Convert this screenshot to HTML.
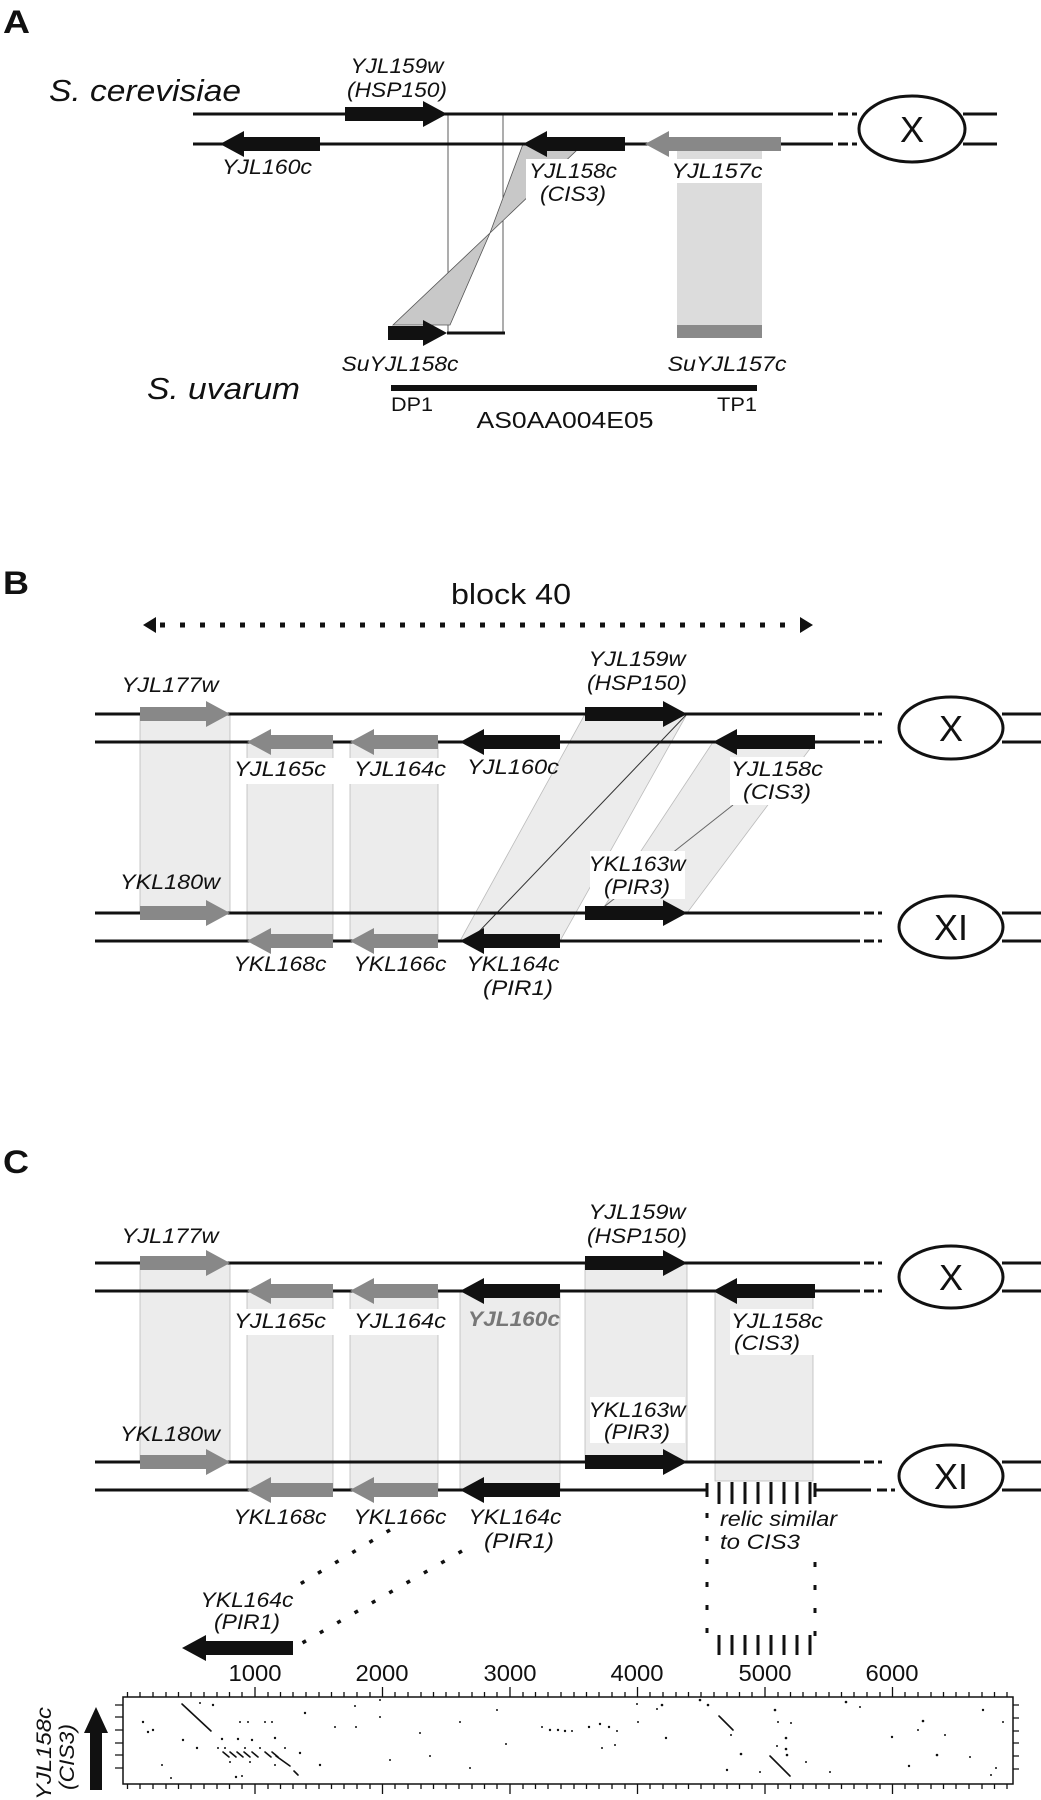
<!DOCTYPE html>
<html><head><meta charset="utf-8"><style>
html,body{margin:0;padding:0;background:#fff}
svg{display:block}
text{font-family:"Liberation Sans",sans-serif;fill:#111}
.l{font-style:italic;font-size:21px}
</style></head><body>
<svg width="1041" height="1800" viewBox="0 0 1041 1800" xmlns="http://www.w3.org/2000/svg">

<!-- ===== PANEL A ===== -->
<text x="3" y="33" font-size="32" font-weight="bold" textLength="27" lengthAdjust="spacingAndGlyphs">A</text>
<text x="49" y="101" font-size="31" font-style="italic" textLength="192" lengthAdjust="spacingAndGlyphs">S. cerevisiae</text>
<text x="147" y="399" font-size="31" font-style="italic" textLength="153" lengthAdjust="spacingAndGlyphs">S. uvarum</text>

<rect x="448" y="114" width="55" height="219" fill="#fff" stroke="#333" stroke-width="0.8"/>
<rect x="677" y="150" width="85" height="188" fill="#dcdcdc"/>
<rect x="677" y="325" width="85" height="13" fill="#8a8a8a"/>
<polygon points="523,144 577,150 490,233" fill="#c8c8c8" stroke="#555" stroke-width="0.8"/>
<polygon points="490,233 393,325 450,325" fill="#c8c8c8" stroke="#555" stroke-width="0.8"/>

<g stroke="#111" stroke-width="3" fill="none">
<line x1="193" y1="114" x2="833" y2="114"/><line x1="838" y1="114" x2="848" y2="114"/><line x1="852" y1="114" x2="857" y2="114"/>
<line x1="193" y1="144" x2="833" y2="144"/><line x1="838" y1="144" x2="848" y2="144"/><line x1="852" y1="144" x2="857" y2="144"/>
<line x1="963" y1="114" x2="997" y2="114"/><line x1="963" y1="144" x2="997" y2="144"/>
<line x1="447" y1="333" x2="505" y2="333"/>
<ellipse cx="912" cy="129" rx="53" ry="33" fill="#fff"/>
</g>
<line x1="391" y1="388" x2="757" y2="388" stroke="#111" stroke-width="6"/>
<text x="912" y="142" font-size="36" text-anchor="middle">X</text>

<polygon points="345,107 423,107 423,101 447,114 423,127 423,121 345,121" fill="#111"/>
<polygon points="320,137 244,137 244,131 220,144 244,157 244,151 320,151" fill="#111"/>
<polygon points="625,137 547,137 547,131 523,144 547,157 547,151 625,151" fill="#111"/>
<polygon points="781,137 669,137 669,131 645,144 669,157 669,151 781,151" fill="#888"/>
<polygon points="388,326 423,326 423,320 447,333 423,346 423,340 388,340" fill="#111"/>

<rect x="668" y="159" width="100" height="24" fill="#fff"/>
<rect x="526" y="159" width="96" height="48" fill="#fff"/>
<g class="l">
<text x="397" y="73" text-anchor="middle" textLength="93" lengthAdjust="spacingAndGlyphs">YJL159w</text>
<text x="397" y="97" text-anchor="middle" textLength="100" lengthAdjust="spacingAndGlyphs">(HSP150)</text>
<text x="267" y="174" text-anchor="middle" textLength="90" lengthAdjust="spacingAndGlyphs">YJL160c</text>
<text x="573" y="178" text-anchor="middle" textLength="88" lengthAdjust="spacingAndGlyphs">YJL158c</text>
<text x="573" y="201" text-anchor="middle" textLength="66" lengthAdjust="spacingAndGlyphs">(CIS3)</text>
<text x="717" y="178" text-anchor="middle" textLength="91" lengthAdjust="spacingAndGlyphs">YJL157c</text>
<text x="400" y="371" text-anchor="middle" textLength="117" lengthAdjust="spacingAndGlyphs">SuYJL158c</text>
<text x="727" y="371" text-anchor="middle" textLength="119" lengthAdjust="spacingAndGlyphs">SuYJL157c</text>
</g>
<text x="391" y="411" font-size="19" textLength="42" lengthAdjust="spacingAndGlyphs">DP1</text>
<text x="717" y="411" font-size="19" textLength="40" lengthAdjust="spacingAndGlyphs">TP1</text>
<text x="565" y="428" font-size="23" text-anchor="middle" textLength="177" lengthAdjust="spacingAndGlyphs">AS0AA004E05</text>

<!-- ===== PANEL B ===== -->
<text x="3" y="594" font-size="32" font-weight="bold" textLength="26" lengthAdjust="spacingAndGlyphs">B</text>
<text x="511" y="604" font-size="29" text-anchor="middle" textLength="120" lengthAdjust="spacingAndGlyphs">block 40</text>
<line x1="160" y1="625" x2="800" y2="625" stroke="#111" stroke-width="5" stroke-dasharray="5 15"/>
<polygon points="143,625 156,617 156,633" fill="#111"/>
<polygon points="813,625 800,617 800,633" fill="#111"/>

<g fill="#ececec" stroke="#bbb" stroke-width="0.8">
<rect x="140" y="714" width="90" height="199"/>
<rect x="247" y="742" width="86" height="199"/>
<rect x="350" y="742" width="88" height="199"/>
<polygon points="585,714 687,714 560,941 460,941"/>
<polygon points="713,742 815,742 687,913 600,913"/>
</g>
<line x1="687" y1="714" x2="470" y2="941" stroke="#333" stroke-width="1"/>
<line x1="733" y1="805" x2="600" y2="910" stroke="#666" stroke-width="1"/>

<g id="chrom">
<g stroke="#111" stroke-width="3" fill="none">
<line x1="95" y1="714" x2="860" y2="714"/><line x1="864" y1="714" x2="874" y2="714"/><line x1="878" y1="714" x2="882" y2="714"/>
<line x1="95" y1="742" x2="860" y2="742"/><line x1="864" y1="742" x2="874" y2="742"/><line x1="878" y1="742" x2="882" y2="742"/>
<line x1="95" y1="913" x2="860" y2="913"/><line x1="864" y1="913" x2="874" y2="913"/><line x1="878" y1="913" x2="882" y2="913"/>
<line x1="1002" y1="714" x2="1041" y2="714"/><line x1="1002" y1="742" x2="1041" y2="742"/>
<line x1="1002" y1="913" x2="1041" y2="913"/>
<ellipse cx="951" cy="728" rx="52" ry="31" fill="#fff"/>
<ellipse cx="951" cy="927" rx="52" ry="31" fill="#fff"/>
</g>
<text x="951" y="741" font-size="36" text-anchor="middle">X</text>
<text x="951" y="940" font-size="36" text-anchor="middle">XI</text>
<polygon points="140,707 206,707 206,701 230,714 206,727 206,721 140,721" fill="#888"/>
<polygon points="333,735 271,735 271,729 247,742 271,755 271,749 333,749" fill="#888"/>
<polygon points="438,735 374,735 374,729 350,742 374,755 374,749 438,749" fill="#888"/>
<polygon points="560,735 484,735 484,729 460,742 484,755 484,749 560,749" fill="#111"/>
<polygon points="585,707 663,707 663,701 687,714 663,727 663,721 585,721" fill="#111"/>
<polygon points="815,735 737,735 737,729 713,742 737,755 737,749 815,749" fill="#111"/>
<polygon points="140,906 206,906 206,900 230,913 206,926 206,920 140,920" fill="#888"/>
<polygon points="585,906 663,906 663,900 687,913 663,926 663,920 585,920" fill="#111"/>
</g>
<g stroke="#111" stroke-width="3">
<line x1="95" y1="941" x2="860" y2="941"/><line x1="864" y1="941" x2="874" y2="941"/><line x1="878" y1="941" x2="882" y2="941"/>
<line x1="1002" y1="941" x2="1041" y2="941"/>
</g>
<polygon points="333,934 271,934 271,928 247,941 271,954 271,948 333,948" fill="#888"/>
<polygon points="438,934 374,934 374,928 350,941 374,954 374,948 438,948" fill="#888"/>
<polygon points="560,934 484,934 484,928 460,941 484,954 484,948 560,948" fill="#111"/>

<g fill="#fff">
<rect x="236" y="758" width="210" height="26"/>
<rect x="730" y="757" width="95" height="48"/>
<rect x="590" y="851" width="95" height="48"/>
</g>
<g class="l">
<text x="170" y="692" text-anchor="middle" textLength="97" lengthAdjust="spacingAndGlyphs">YJL177w</text>
<text x="637" y="666" text-anchor="middle" textLength="97" lengthAdjust="spacingAndGlyphs">YJL159w</text>
<text x="637" y="690" text-anchor="middle" textLength="100" lengthAdjust="spacingAndGlyphs">(HSP150)</text>
<text x="280" y="776" text-anchor="middle" textLength="92" lengthAdjust="spacingAndGlyphs">YJL165c</text>
<text x="400" y="776" text-anchor="middle" textLength="92" lengthAdjust="spacingAndGlyphs">YJL164c</text>
<text x="513" y="774" text-anchor="middle" textLength="92" lengthAdjust="spacingAndGlyphs">YJL160c</text>
<text x="777" y="776" text-anchor="middle" textLength="92" lengthAdjust="spacingAndGlyphs">YJL158c</text>
<text x="777" y="799" text-anchor="middle" textLength="68" lengthAdjust="spacingAndGlyphs">(CIS3)</text>
<text x="637" y="871" text-anchor="middle" textLength="97" lengthAdjust="spacingAndGlyphs">YKL163w</text>
<text x="637" y="894" text-anchor="middle" textLength="66" lengthAdjust="spacingAndGlyphs">(PIR3)</text>
<text x="170" y="889" text-anchor="middle" textLength="100" lengthAdjust="spacingAndGlyphs">YKL180w</text>
<text x="280" y="971" text-anchor="middle" textLength="93" lengthAdjust="spacingAndGlyphs">YKL168c</text>
<text x="400" y="971" text-anchor="middle" textLength="93" lengthAdjust="spacingAndGlyphs">YKL166c</text>
<text x="513" y="971" text-anchor="middle" textLength="93" lengthAdjust="spacingAndGlyphs">YKL164c</text>
<text x="518" y="995" text-anchor="middle" textLength="70" lengthAdjust="spacingAndGlyphs">(PIR1)</text>
</g>

<!-- ===== PANEL C ===== -->
<text x="3" y="1173" font-size="32" font-weight="bold" textLength="26" lengthAdjust="spacingAndGlyphs">C</text>
<g fill="#ececec" stroke="#bbb" stroke-width="0.8">
<rect x="140" y="1263" width="90" height="198"/>
<rect x="247" y="1291" width="86" height="199"/>
<rect x="350" y="1291" width="88" height="199"/>
<rect x="460" y="1291" width="100" height="199"/>
<rect x="585" y="1263" width="102" height="198"/>
<rect x="715" y="1291" width="98" height="190"/>
</g>
<use href="#chrom" transform="translate(0,549)"/>
<g stroke="#111" stroke-width="3">
<line x1="95" y1="1490" x2="707" y2="1490"/><line x1="815" y1="1490" x2="871" y2="1490"/>
<line x1="877" y1="1490" x2="887" y2="1490"/><line x1="891" y1="1490" x2="895" y2="1490"/>
<line x1="1002" y1="1490" x2="1041" y2="1490"/>
<line x1="707" y1="1483" x2="707" y2="1497"/><line x1="815" y1="1483" x2="815" y2="1497"/>
</g>
<polygon points="333,1483 271,1483 271,1477 247,1490 271,1503 271,1497 333,1497" fill="#888"/>
<polygon points="438,1483 374,1483 374,1477 350,1490 374,1503 374,1497 438,1497" fill="#888"/>
<polygon points="560,1483 484,1483 484,1477 460,1490 484,1503 484,1497 560,1497" fill="#111"/>
<g stroke="#111" stroke-width="3">
<line x1="719" y1="1482" x2="719" y2="1504"/><line x1="732" y1="1482" x2="732" y2="1504"/>
<line x1="745" y1="1482" x2="745" y2="1504"/><line x1="758" y1="1482" x2="758" y2="1504"/>
<line x1="771" y1="1482" x2="771" y2="1504"/><line x1="784" y1="1482" x2="784" y2="1504"/>
<line x1="797" y1="1482" x2="797" y2="1504"/><line x1="810" y1="1482" x2="810" y2="1504"/>
<line x1="719" y1="1635" x2="719" y2="1655"/><line x1="732" y1="1635" x2="732" y2="1655"/>
<line x1="745" y1="1635" x2="745" y2="1655"/><line x1="758" y1="1635" x2="758" y2="1655"/>
<line x1="771" y1="1635" x2="771" y2="1655"/><line x1="784" y1="1635" x2="784" y2="1655"/>
<line x1="797" y1="1635" x2="797" y2="1655"/><line x1="810" y1="1635" x2="810" y2="1655"/>
<line x1="707" y1="1513" x2="707" y2="1640" stroke-dasharray="5 18"/>
<line x1="815" y1="1562" x2="815" y2="1640" stroke-dasharray="5 18"/>
</g>
<g stroke="#111" stroke-width="3.5" stroke-dasharray="4 16">
<line x1="390" y1="1530" x2="290" y2="1590"/>
<line x1="462" y1="1551" x2="297" y2="1646"/>
</g>
<polygon points="293,1641 206,1641 206,1635 182,1648 206,1661 206,1655 293,1655" fill="#111"/>

<g fill="#fff">
<rect x="236" y="1309" width="210" height="26"/>
<rect x="730" y="1309" width="95" height="46"/>
<rect x="590" y="1397" width="95" height="46"/>
</g>
<g class="l">
<text x="170" y="1243" text-anchor="middle" textLength="97" lengthAdjust="spacingAndGlyphs">YJL177w</text>
<text x="637" y="1219" text-anchor="middle" textLength="97" lengthAdjust="spacingAndGlyphs">YJL159w</text>
<text x="637" y="1243" text-anchor="middle" textLength="100" lengthAdjust="spacingAndGlyphs">(HSP150)</text>
<text x="280" y="1328" text-anchor="middle" textLength="92" lengthAdjust="spacingAndGlyphs">YJL165c</text>
<text x="400" y="1328" text-anchor="middle" textLength="92" lengthAdjust="spacingAndGlyphs">YJL164c</text>
<text x="514" y="1326" text-anchor="middle" textLength="92" lengthAdjust="spacingAndGlyphs" style="fill:#777;font-weight:bold">YJL160c</text>
<text x="777" y="1328" text-anchor="middle" textLength="92" lengthAdjust="spacingAndGlyphs">YJL158c</text>
<text x="767" y="1350" text-anchor="middle" textLength="66" lengthAdjust="spacingAndGlyphs">(CIS3)</text>
<text x="637" y="1417" text-anchor="middle" textLength="97" lengthAdjust="spacingAndGlyphs">YKL163w</text>
<text x="637" y="1439" text-anchor="middle" textLength="66" lengthAdjust="spacingAndGlyphs">(PIR3)</text>
<text x="170" y="1441" text-anchor="middle" textLength="100" lengthAdjust="spacingAndGlyphs">YKL180w</text>
<text x="280" y="1524" text-anchor="middle" textLength="93" lengthAdjust="spacingAndGlyphs">YKL168c</text>
<text x="400" y="1524" text-anchor="middle" textLength="93" lengthAdjust="spacingAndGlyphs">YKL166c</text>
<text x="515" y="1524" text-anchor="middle" textLength="93" lengthAdjust="spacingAndGlyphs">YKL164c</text>
<text x="519" y="1548" text-anchor="middle" textLength="70" lengthAdjust="spacingAndGlyphs">(PIR1)</text>
<text x="720" y="1526" textLength="117" lengthAdjust="spacingAndGlyphs">relic similar</text>
<text x="720" y="1549" textLength="80" lengthAdjust="spacingAndGlyphs">to CIS3</text>
<text x="247" y="1607" text-anchor="middle" textLength="93" lengthAdjust="spacingAndGlyphs">YKL164c</text>
<text x="247" y="1629" text-anchor="middle" textLength="66" lengthAdjust="spacingAndGlyphs">(PIR1)</text>
</g>

<g font-size="23" text-anchor="middle">
<text x="255" y="1681" textLength="53" lengthAdjust="spacingAndGlyphs">1000</text>
<text x="382" y="1681" textLength="53" lengthAdjust="spacingAndGlyphs">2000</text>
<text x="510" y="1681" textLength="53" lengthAdjust="spacingAndGlyphs">3000</text>
<text x="637" y="1681" textLength="53" lengthAdjust="spacingAndGlyphs">4000</text>
<text x="765" y="1681" textLength="53" lengthAdjust="spacingAndGlyphs">5000</text>
<text x="892" y="1681" textLength="53" lengthAdjust="spacingAndGlyphs">6000</text>
</g>
<rect x="123" y="1697" width="890" height="87" fill="#fff" stroke="#111" stroke-width="1.5"/>
<g id="ticks" stroke="#111" stroke-width="1.3">
<path d="M127.5 1697v-5M140 1697v-5M153 1697v-5M166 1697v-5M178.5 1697v-5M191 1697v-5M204 1697v-5M217 1697v-5M229.5 1697v-5M242 1697v-5M255 1697v-10M268 1697v-5M280.5 1697v-5M293 1697v-5M306 1697v-5M319 1697v-5M331.5 1697v-5M344 1697v-5M357 1697v-5M370 1697v-5M382.5 1697v-10M395 1697v-5M408 1697v-5M421 1697v-5M433.5 1697v-5M446 1697v-5M459 1697v-5M472 1697v-5M484.5 1697v-5M497 1697v-5M510 1697v-10M523 1697v-5M535.5 1697v-5M548 1697v-5M561 1697v-5M574 1697v-5M586.5 1697v-5M599 1697v-5M612 1697v-5M625 1697v-5M637.5 1697v-10M650 1697v-5M663 1697v-5M676 1697v-5M688.5 1697v-5M701 1697v-5M714 1697v-5M727 1697v-5M739.5 1697v-5M752 1697v-5M765 1697v-10M778 1697v-5M790.5 1697v-5M803 1697v-5M816 1697v-5M829 1697v-5M841.5 1697v-5M854 1697v-5M867 1697v-5M880 1697v-5M892.5 1697v-10M905 1697v-5M918 1697v-5M931 1697v-5M943.5 1697v-5M956 1697v-5M969 1697v-5M982 1697v-5M994.5 1697v-5M1007 1697v-5"/>
</g>
<use href="#ticks" transform="translate(0,3481) scale(1,-1)"/>
<g stroke="#111" stroke-width="1.3">
<path d="M115 1705h8M115 1717h8M115 1730h8M115 1743h8M115 1755h8M115 1768h8M1013 1705h6M1013 1718h6M1013 1731h6M1013 1743h6M1013 1756h6M1013 1769h6"/>
</g>
<g stroke="#111" stroke-width="1.6" stroke-linecap="round">
<line x1="182" y1="1704" x2="211" y2="1731"/>
<line x1="276" y1="1756" x2="290" y2="1766"/>
<line x1="294" y1="1771" x2="298" y2="1775"/>
<line x1="719" y1="1716" x2="733" y2="1730"/>
<line x1="770" y1="1756" x2="790" y2="1776"/>
<line x1="223" y1="1752" x2="229" y2="1757"/><line x1="230" y1="1752" x2="236" y2="1757"/>
<line x1="237" y1="1752" x2="243" y2="1757"/><line x1="244" y1="1752" x2="250" y2="1757"/>
<line x1="252" y1="1752" x2="258" y2="1757"/><line x1="265" y1="1752" x2="271" y2="1757"/>
<line x1="272" y1="1752" x2="278" y2="1757"/>
</g>
<g fill="#111">
<circle cx="143" cy="1722" r="1.2"/><circle cx="148" cy="1732" r="1.2"/><circle cx="153" cy="1730" r="1.2"/>
<circle cx="183" cy="1740" r="1.2"/><circle cx="197" cy="1748" r="1.2"/><circle cx="213" cy="1705" r="1.2"/>
<circle cx="222" cy="1739" r="1.2"/><circle cx="238" cy="1739" r="1.2"/><circle cx="252" cy="1740" r="1.2"/>
<circle cx="275" cy="1738" r="1.2"/><circle cx="240" cy="1722" r="1"/><circle cx="248" cy="1722" r="1"/>
<circle cx="265" cy="1722" r="1"/><circle cx="272" cy="1722" r="1"/><circle cx="218" cy="1748" r="1"/>
<circle cx="225" cy="1748" r="1"/><circle cx="245" cy="1748" r="1"/><circle cx="260" cy="1748" r="1"/>
<circle cx="285" cy="1748" r="1"/><circle cx="230" cy="1762" r="1"/><circle cx="250" cy="1762" r="1"/>
<circle cx="275" cy="1765" r="1"/><circle cx="236" cy="1777" r="1.2"/><circle cx="242" cy="1776" r="1"/>
<circle cx="300" cy="1753" r="1.2"/><circle cx="320" cy="1765" r="1.2"/><circle cx="305" cy="1713" r="1.2"/>
<circle cx="335" cy="1727" r="1"/><circle cx="356" cy="1727" r="1"/><circle cx="355" cy="1706" r="1"/>
<circle cx="380" cy="1700" r="1"/><circle cx="380" cy="1717" r="1"/><circle cx="390" cy="1760" r="1"/>
<circle cx="420" cy="1733" r="1"/><circle cx="430" cy="1756" r="1"/><circle cx="460" cy="1722" r="1"/>
<circle cx="470" cy="1768" r="1"/><circle cx="497" cy="1710" r="1"/><circle cx="506" cy="1744" r="1"/>
<circle cx="542" cy="1727" r="1"/><circle cx="550" cy="1730" r="1.2"/><circle cx="558" cy="1730" r="1.2"/>
<circle cx="565" cy="1731" r="1.2"/><circle cx="572" cy="1731" r="1"/><circle cx="589" cy="1727" r="1.2"/>
<circle cx="600" cy="1724" r="1.2"/><circle cx="609" cy="1727" r="1.2"/><circle cx="602" cy="1748" r="1"/>
<circle cx="615" cy="1745" r="1"/><circle cx="617" cy="1731" r="1"/><circle cx="638" cy="1722" r="1"/>
<circle cx="637" cy="1704" r="1"/><circle cx="662" cy="1705" r="1.3"/><circle cx="657" cy="1709" r="1"/>
<circle cx="666" cy="1738" r="1.2"/><circle cx="700" cy="1700" r="1.3"/><circle cx="708" cy="1705" r="1.3"/>
<circle cx="731" cy="1735" r="1"/><circle cx="741" cy="1754" r="1.3"/><circle cx="727" cy="1770" r="1.2"/>
<circle cx="760" cy="1772" r="1"/><circle cx="775" cy="1710" r="1.3"/><circle cx="778" cy="1722" r="1"/>
<circle cx="786" cy="1738" r="1.3"/><circle cx="786" cy="1749" r="1.3"/><circle cx="787" cy="1755" r="1.3"/>
<circle cx="777" cy="1746" r="1"/><circle cx="791" cy="1723" r="1"/><circle cx="806" cy="1762" r="1"/>
<circle cx="830" cy="1772" r="1"/><circle cx="846" cy="1702" r="1.3"/><circle cx="860" cy="1707" r="1"/>
<circle cx="892" cy="1737" r="1.2"/><circle cx="909" cy="1766" r="1.2"/><circle cx="918" cy="1730" r="1"/>
<circle cx="923" cy="1721" r="1.3"/><circle cx="937" cy="1755" r="1.3"/><circle cx="945" cy="1735" r="1"/>
<circle cx="970" cy="1757" r="1"/><circle cx="983" cy="1710" r="1.2"/><circle cx="991" cy="1775" r="1"/>
<circle cx="1003" cy="1722" r="1"/><circle cx="996" cy="1768" r="1"/><circle cx="162" cy="1765" r="1"/>
<circle cx="171" cy="1778" r="1"/><circle cx="200" cy="1703" r="1"/>
</g>
<polygon points="90,1790 102,1790 102,1733 108,1733 96,1707 84,1733 90,1733" fill="#111"/>
<text transform="translate(51,1800) rotate(-90)" class="l" textLength="93" lengthAdjust="spacingAndGlyphs">YJL158c</text>
<text transform="translate(74,1790) rotate(-90)" class="l" textLength="66" lengthAdjust="spacingAndGlyphs">(CIS3)</text>
</svg>
</body></html>
